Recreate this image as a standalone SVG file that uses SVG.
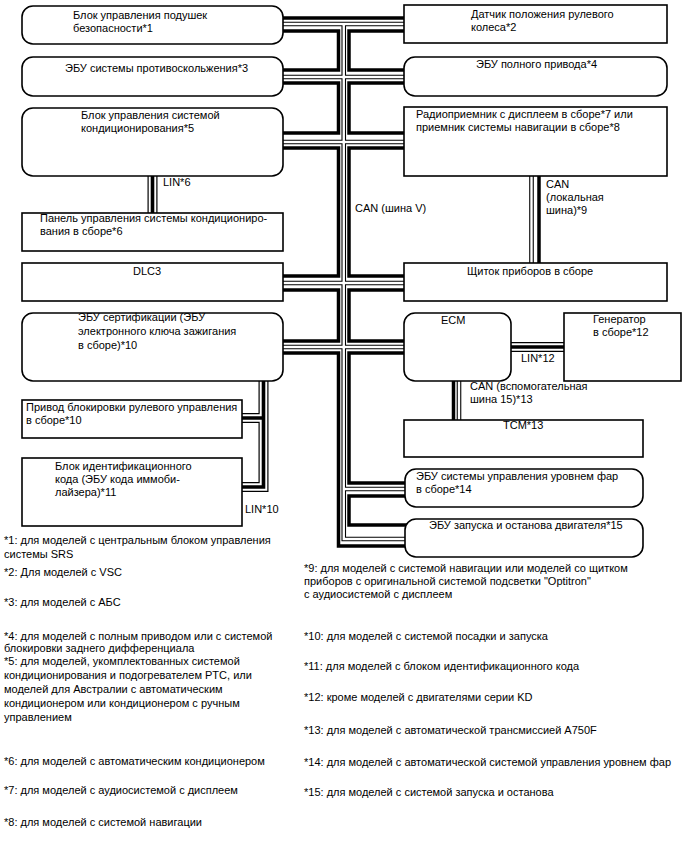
<svg xmlns="http://www.w3.org/2000/svg" width="688" height="852" viewBox="0 0 688 852">
<style>
text{font-family:"Liberation Sans",Arial,sans-serif;font-size:11px;fill:#000}
.box{fill:#fff;stroke:#000;stroke-width:1.6}
.thk{fill:none;stroke:#000;stroke-width:3.5;stroke-linejoin:miter}
.chO{fill:none;stroke:#000;stroke-width:4.6}
.chI{fill:none;stroke:#fff;stroke-width:2.4}
.lO{fill:none;stroke:#000;stroke-width:10}
.lI{fill:none;stroke:#fff;stroke-width:7.6}
.lC{fill:none;stroke:#000;stroke-width:3.6}
</style>
<rect width="688" height="852" fill="#fff"/>
<g id="connectors">
<path class="thk" d="M280,18 H407 M280,31 H338.5 V70 H280 M280,83 H338.5 V133 H280 M280,148 H338.5 V276 H280 M280,290 H338.5 V341 H280 M280,353 H338.5 V546 H408 M407,31 H349 V70 H407 M407,83 H349 V133 H407 M407,148 H349 V276 H407 M407,290 H349 V341 H407 M407,353 H349 V483 H408 M408,496 H349 V525 H408 M539,174 V265 M453.5,379 V422"/>
<path class="chO" d="M280,24 H407 M343.75,24 V539 H408 M280,77 H407 M280,142 H407 M280,283 H407 M280,347 H407 M343.75,489 H408 M531.5,174 V265 M459,379 V422"/>
<path class="chI" d="M280,24 H407 M343.75,24 V539 H408 M280,77 H407 M280,142 H407 M280,283 H407 M280,347 H407 M343.75,489 H408 M531.5,174 V265 M459,379 V422"/>
<path class="lO" d="M152.5,174 V215 M509,347 H566 M263.5,379 V487 H240 M263.5,418 H240"/>
<path class="lI" d="M152.5,174 V215 M509,347 H566 M263.5,379 V487 H240 M263.5,418 H240"/>
<path class="lC" d="M152.5,174 V215 M509,347 H566 M263.5,379 V487 H240 M263.5,418 H240"/>
</g>
<g id="n1"><rect class="box" x="22" y="6" width="261" height="38" rx="11"/><text x="73" y="19">Блок управления подушек</text><text x="73" y="32">безопасности*1</text></g>
<g id="n2"><rect class="box" x="404" y="5" width="263" height="38"/><text x="471" y="18">Датчик положения рулевого</text><text x="471" y="31">колеса*2</text></g>
<g id="n3"><rect class="box" x="22" y="57" width="261" height="39" rx="11"/><text x="65" y="72">ЭБУ системы противоскольжения*3</text></g>
<g id="n4"><rect class="box" x="404" y="57" width="263" height="39" rx="11"/><text x="476" y="68">ЭБУ полного привода*4</text></g>
<g id="n5"><rect class="box" x="22" y="108" width="261" height="68" rx="11"/><text x="81" y="119">Блок управления системой</text><text x="81" y="132">кондиционирования*5</text></g>
<g id="n7"><rect class="box" x="404" y="107" width="263" height="69"/><text x="416" y="118">Радиоприемник с дисплеем в сборе*7 или</text><text x="416" y="131">приемник системы навигации в сборе*8</text></g>
<g id="n6"><rect class="box" x="22" y="213" width="261" height="38"/><text x="40" y="222">Панель управления системы кондициониро-</text><text x="40" y="235">вания в сборе*6</text></g>
<g id="dlc3"><rect class="box" x="22" y="263" width="261" height="38"/><text x="133" y="275">DLC3</text></g>
<g id="meter"><rect class="box" x="404" y="263" width="263" height="38"/><text x="467" y="275">Щиток приборов в сборе</text></g>
<g id="n10"><rect class="box" x="22" y="313" width="261" height="68" rx="11"/><text x="78" y="321">ЭБУ сертификации (ЭБУ</text><text x="78" y="335">электронного ключа зажигания</text><text x="78" y="349">в сборе)*10</text></g>
<g id="ecm"><rect class="box" x="404" y="313" width="107" height="68" rx="11"/><text x="441" y="324">ECM</text></g>
<g id="gen"><rect class="box" x="564" y="313" width="117" height="68"/><text x="593" y="323">Генератор</text><text x="593" y="336">в сборе*12</text></g>
<g id="lock"><rect class="box" x="22" y="400" width="220" height="38"/><text x="26" y="411">Привод блокировки рулевого управления</text><text x="26" y="424">в сборе*10</text></g>
<g id="tcm"><rect class="box" x="404" y="420" width="239" height="37"/><text x="503" y="429">TCM*13</text></g>
<g id="n11"><rect class="box" x="22" y="458" width="220" height="68"/><text x="55" y="470">Блок идентификационного</text><text x="55" y="483">кода (ЭБУ кода иммоби-</text><text x="55" y="496">лайзера)*11</text></g>
<g id="n14"><rect class="box" x="405" y="469" width="238" height="38" rx="11"/><text x="416" y="480">ЭБУ системы управления уровнем фар</text><text x="416" y="493">в сборе*14</text></g>
<g id="n15"><rect class="box" x="405" y="519" width="238" height="38" rx="11"/><text x="429" y="529">ЭБУ запуска и останова двигателя*15</text></g>
<g id="labels">
<text x="163" y="186">LIN*6</text>
<text x="355" y="212">CAN (шина V)</text>
<text x="546" y="188">CAN</text><text x="546" y="201">(локальная</text><text x="546" y="214">шина)*9</text>
<text x="521" y="362">LIN*12</text>
<text x="470" y="390">CAN (вспомогательная</text><text x="470" y="403">шина 15)*13</text>
<text x="245" y="513">LIN*10</text>
</g>
<g id="notes">
<text x="4" y="544">*1: для моделей с центральным блоком управления</text>
<text x="4" y="558">системы SRS</text>
<text x="4" y="576">*2: Для моделей с VSC</text>
<text x="4" y="606">*3: для моделей с АБС</text>
<text x="4" y="640">*4: для моделей с полным приводом или с системой</text>
<text x="4" y="652">блокировки заднего дифференциала</text>
<text x="4" y="665">*5: для моделей, укомплектованных системой</text>
<text x="4" y="679">кондиционирования и подогревателем PTC, или</text>
<text x="4" y="693">моделей для Австралии с автоматическим</text>
<text x="4" y="707">кондиционером или кондиционером с ручным</text>
<text x="4" y="721">управлением</text>
<text x="4" y="765">*6: для моделей с автоматическим кондиционером</text>
<text x="4" y="794">*7: для моделей с аудиосистемой с дисплеем</text>
<text x="4" y="826">*8: для моделей с системой навигации</text>
<text x="304" y="572">*9: для моделей с системой навигации или моделей со щитком</text>
<text x="304" y="585">приборов с оригинальной системой подсветки "Optitron"</text>
<text x="304" y="598">с аудиосистемой с дисплеем</text>
<text x="304" y="640">*10: для моделей с системой посадки и запуска</text>
<text x="304" y="670">*11: для моделей с блоком идентификационного кода</text>
<text x="304" y="701">*12: кроме моделей с двигателями серии KD</text>
<text x="304" y="734">*13: для моделей с автоматической трансмиссией A750F</text>
<text x="304" y="766">*14: для моделей с автоматической системой управления уровнем фар</text>
<text x="304" y="796">*15: для моделей с системой запуска и останова</text>
</g>
</svg>
